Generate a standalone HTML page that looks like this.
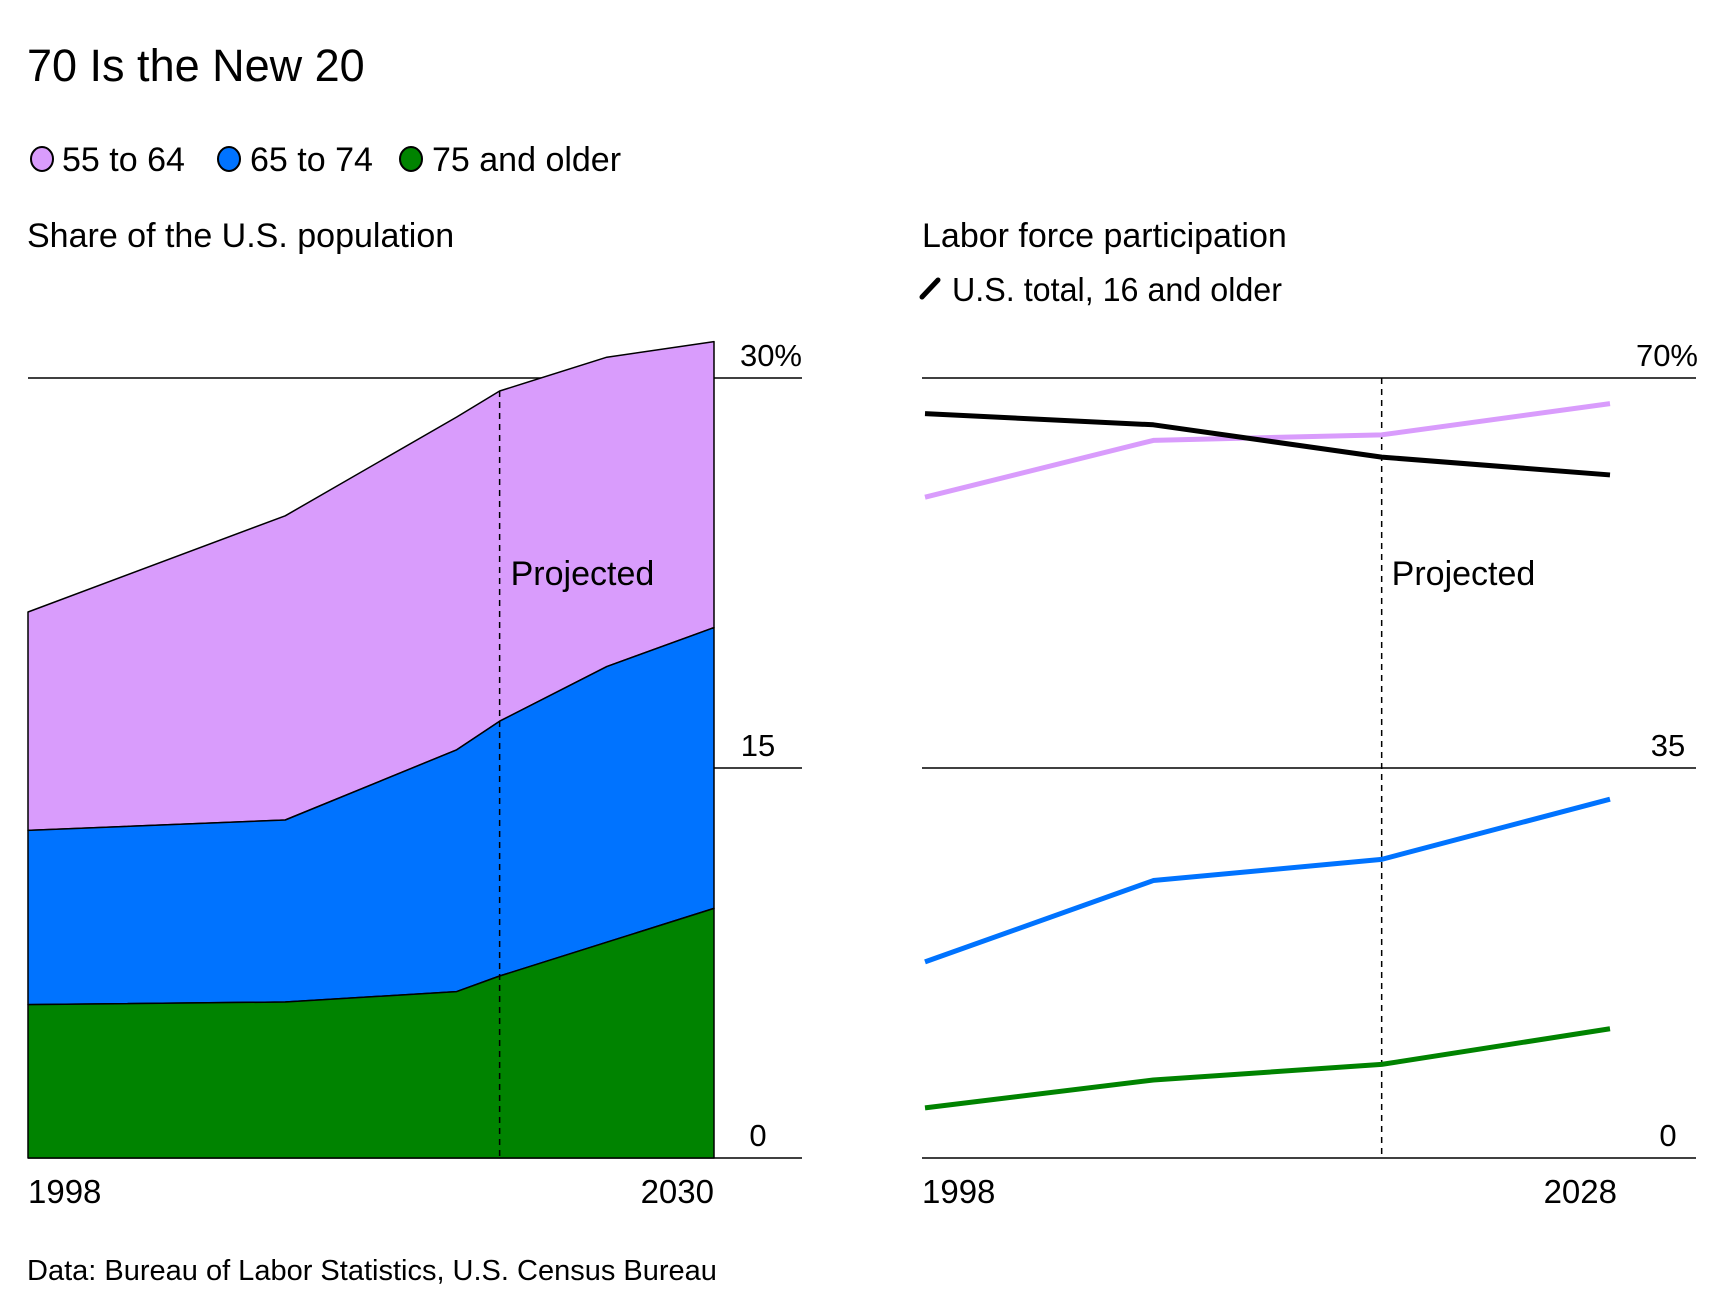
<!DOCTYPE html>
<html><head><meta charset="utf-8"><style>
html,body{margin:0;padding:0;background:#fff;}
svg{display:block;font-family:"Liberation Sans",sans-serif;}
</style></head><body>
<svg id="chart" width="1716" height="1296" viewBox="0 0 1716 1296">
<text x="27" y="81" font-size="45" fill="#000">70 Is the New 20</text>
<g>
<g><ellipse cx="42" cy="159" rx="11" ry="12" fill="#d99cfc" stroke="#000" stroke-width="2"/><text x="62" y="171" font-size="34">55 to 64</text></g>
<g><ellipse cx="229" cy="159" rx="11" ry="12" fill="#0073ff" stroke="#000" stroke-width="2"/><text x="250" y="171" font-size="34">65 to 74</text></g>
<g><ellipse cx="411" cy="159" rx="11" ry="12" fill="#008300" stroke="#000" stroke-width="2"/><text x="432" y="171" font-size="34">75 and older</text></g>
</g>
<text x="27" y="247" font-size="34">Share of the U.S. population</text>
<text x="922" y="247" font-size="34">Labor force participation</text>
<g><line x1="922" y1="297" x2="938" y2="280" stroke="#000" stroke-width="5" stroke-linecap="round"/><text x="952" y="301" font-size="33" textLength="330" lengthAdjust="spacingAndGlyphs">U.S. total, 16 and older</text></g>
<g id="left"></g>
<g id="right"></g>
<text x="27" y="1280" font-size="29">Data: Bureau of Labor Statistics, U.S. Census Bureau</text>
</svg>
<script>
const leftYears=[1998,2010,2018,2020,2025,2030];
const green=[5.9,6.0,6.4,7.0,8.3,9.6];
const blue=[6.7,7.0,9.3,9.8,10.6,10.8];
const purple=[8.4,11.7,12.8,12.7,11.9,11.0];
const leftTicks=[0,15,30];
const leftTickLabels=["0","15","30%"];
const leftXLabels=["1998","2030"];
const rightYears=[1998,2008,2018,2028];
const totalLine=[66.8,65.8,62.9,61.3];
const pink55=[59.3,64.4,64.9,67.7];
const blue65=[17.6,24.9,26.8,32.2];
const green75=[4.5,7.0,8.4,11.6];
const rightTicks=[0,35,70];
const rightTickLabels=["0","35","70%"];
const rightXLabels=["1998","2028"];
const projYearL=2020, projYearR=2018;
const NS="http://www.w3.org/2000/svg";
function mk(p,t,a){const e=document.createElementNS(NS,t);for(const k in a)e.setAttribute(k,a[k]);p.appendChild(e);return e;}
const L=document.getElementById('left');
const lx=y=>28+(y-1998)/(2030-1998)*(714-28);
const ly=v=>1158-v/30*(1158-378);
leftTicks.forEach((t,i)=>{
 const g=mk(L,'line',{x1:i==1?714:28,y1:ly(t),x2:802,y2:ly(t),stroke:'#000','stroke-width':1.5});
 
 
});
const c1=green.map(v=>v), c2=green.map((v,i)=>v+blue[i]), c3=c2.map((v,i)=>v+purple[i]);
function area(lo,hi,fill,name){
 let d='M'+leftYears.map((y,i)=>lx(y)+','+ly(hi[i])).join('L');
 for(let i=leftYears.length-1;i>=0;i--)d+='L'+lx(leftYears[i])+','+ly(lo?lo[i]:0);
 const p=mk(L,'path',{d:d+'Z',fill:fill,stroke:'#000','stroke-width':1.5,'stroke-linejoin':'round'});
 
 
}
area(c2,c3,'#d99cfc','area-55-64');
area(c1,c2,'#0073ff','area-65-74');
area(null,c1,'#008300','area-75-older');
leftTicks.forEach((t,i)=>{
 const tx=mk(L,'text',{x:i==2?802:758,y:ly(t)-12,'font-size':31,'text-anchor':i==2?'end':'middle'});tx.textContent=leftTickLabels[i];
 
 
});
const pl=mk(L,'line',{x1:lx(projYearL),y1:ly(c3[3]),x2:lx(projYearL),y2:1158,stroke:'#000','stroke-width':1.5,'stroke-dasharray':'6,5'});


let pt=mk(L,'text',{x:lx(projYearL)+11,y:585,'font-size':34});pt.textContent='Projected';


leftXLabels.forEach((s,i)=>{const t=mk(L,'text',{x:i?714:28,y:1203,'font-size':33,'text-anchor':i?'end':'start'});t.textContent=s;
 
 });
const R=document.getElementById('right');
const rx=y=>925+(y-1998)/(2028-1998)*(1610-925);
const ry=v=>1158-v/70*(1158-378);
rightTicks.forEach((t,i)=>{
 const g=mk(R,'line',{x1:922,y1:ry(t),x2:1696,y2:ry(t),stroke:'#000','stroke-width':1.5});
 
 
 const tx=mk(R,'text',{x:i==2?1698:1668,y:ry(t)-12,'font-size':31,'text-anchor':i==2?'end':'middle'});tx.textContent=rightTickLabels[i];
 
 
});
const pr=mk(R,'line',{x1:rx(projYearR),y1:378,x2:rx(projYearR),y2:1158,stroke:'#000','stroke-width':1.5,'stroke-dasharray':'6,5'});


pt=mk(R,'text',{x:rx(projYearR)+10,y:585,'font-size':34});pt.textContent='Projected';


function line(vals,col,name){
 const p=mk(R,'polyline',{points:rightYears.map((y,i)=>rx(y)+','+ry(vals[i])).join(' '),fill:'none',stroke:col,'stroke-width':5,'stroke-linejoin':'round'});
 
 
}
line(pink55,'#d99cfc','line-55-64');
line(totalLine,'#000','line-us-total');
line(blue65,'#0073ff','line-65-74');
line(green75,'#008300','line-75-older');
rightXLabels.forEach((s,i)=>{const t=mk(R,'text',{x:i?1617:922,y:1203,'font-size':33,'text-anchor':i?'end':'start'});t.textContent=s;
 
 });
</script>
</body></html>
